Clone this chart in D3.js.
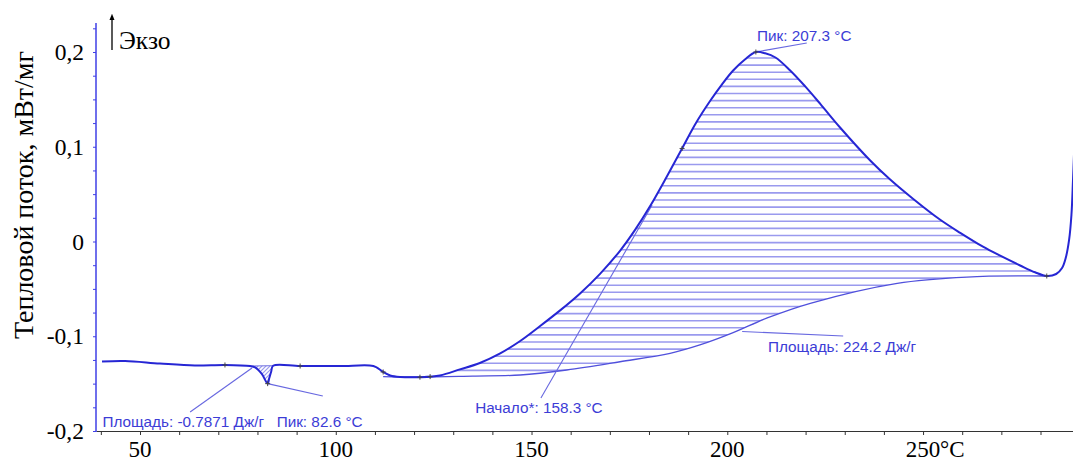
<!DOCTYPE html>
<html>
<head>
<meta charset="utf-8">
<script src="https://cdn.jsdelivr.net/npm/d3@7"></script>
<style>
  body { margin: 0; background: #fff; }
  svg { display: block; }
</style>
</head>
<body>
<svg id="chart"></svg>
<script>
// DSC curve
const tempC = [40.3, 46.2, 55.1, 64.0, 71.7, 78.1, 79.4, 81.1, 82.6, 83.0, 83.5, 84.0, 90.9, 101.1, 108.7,
  110.3, 112.1, 113.9, 116.4, 121.5, 126.6, 131.7, 136.8, 142.0, 147.1, 152.2, 157.3, 162.4, 167.5,
  172.6, 176.4, 180.3, 184.6, 188.45, 192.0, 195.6, 198.7, 201.5, 204.5, 207.3, 209.7, 212.3, 216.0, 219.9, 223.8,
  228.8, 236.5, 241.6, 247.5, 254.3, 259.5, 265.3, 269.7, 274.8, 278.6, 281.6, 284.0, 285.5, 286.5, 287.3, 287.9, 288.3, 288.6]
const heatFlow = [-0.1266, -0.1261, -0.1288, -0.1309, -0.1303, -0.1314, -0.1328, -0.1398, -0.1500, -0.1444, -0.1374, -0.1311, -0.1314, -0.1314, -0.1309,
  -0.1325, -0.1377, -0.1414, -0.1430, -0.1432, -0.1414, -0.1350, -0.1282, -0.1181, -0.1050, -0.0892, -0.0727, -0.0548, -0.0341,
  -0.0098, 0.0120, 0.0374, 0.0689, 0.0982, 0.1251, 0.1483, 0.1662, 0.1805, 0.1921, 0.2000, 0.1986, 0.1942, 0.1808, 0.1637, 0.1450,
  0.1203, 0.0855, 0.0654, 0.0449, 0.0232, 0.0091, -0.0055, -0.0150, -0.0253, -0.0325, -0.0364, -0.0343, -0.0280, -0.0164, 0.0016, 0.0280, 0.0649, 0.0966]

// integration baseline of the big peak
const baseT = [112.1, 121.5, 135.0, 147.1, 159.0, 172.6, 185.4, 193.0, 201.5, 210.2, 221.2, 243.4, 261.2, 281.6]
const baseV = [-0.1427, -0.1430, -0.1420, -0.1409, -0.1356, -0.1269, -0.1180, -0.1092, -0.0962, -0.0807, -0.0652, -0.0441, -0.0375, -0.0364]

// small endotherm baseline
const dipT = [78.1, 84.0]
const dipV = [-0.1314, -0.1311]

// marked points
const markT = [71.7, 82.6, 90.9, 112.1, 121.5, 124.1, 188.45, 207.3, 281.6]
const markV = [-0.1303, -0.1500, -0.1314, -0.1377, -0.1432, -0.1426, 0.0982, 0.2000, -0.0364]

// annotations: text, anchor point, leader start, leader end
const noteText = ['Площадь: -0.7871 Дж/г', 'Пик: 82.6 °C', 'Начало*: 158.3 °C', 'Площадь: 224.2 Дж/г', 'Пик: 207.3 °C']
const noteT = [40.4, 84.9, 135.6, 210.4, 207.6]
const noteV = [-0.1963, -0.1963, -0.1815, -0.1171, 0.2121]
const leadT = [[62.8, 78.6], [82.6, 96.7], [152.4, 180.8], [203.8, 229.6], [207.3, 220.3]]
const leadV = [[-0.1799, -0.1335], [-0.1500, -0.1630], [-0.1652, 0.0385], [-0.0950, -0.0997], [0.2000, 0.2095]]

const xTicks = [50, 100, 150, 200, 250]
const yTicks = [0.2, 0.1, 0, -0.1, -0.2]
const yTickLabels = ['0,2', '0,1', '0', '-0,1', '-0,2']

const width = 1073
const height = 461

const svg = d3.select('#chart').attr('width', width).attr('height', height)

const x = d3.scaleLinear().domain([38.76, 288.3]).range([96, 1073])
const y = d3.scaleLinear().domain([-0.2, 0.2]).range([431, 52])

const blue = '#2626d4'
const noteBlue = '#3c3cd6'
const hatchBlue = '#9a9aee'

const curvePts = tempC.map((t, i) => [t, heatFlow[i]])
const basePts = baseT.map((t, i) => [t, baseV[i]])

const line = d3.line().x(d => x(d[0])).y(d => y(d[1])).curve(d3.curveCatmullRom.alpha(0.5))

const defs = svg.append('defs')
defs.append('clipPath').attr('id', 'plot-clip')
  .append('rect').attr('x', 97).attr('y', 0).attr('width', width - 97).attr('height', 431)

// hatched area of the big exotherm
const peakPts = curvePts.filter(d => d[0] >= 112.1 && d[0] <= 281.6)
const areaPath = line(peakPts) + line(basePts.slice().reverse()).replace(/^M/, 'L') + 'Z'
defs.append('clipPath').attr('id', 'peak-clip')
  .append('path').attr('d', areaPath)

svg.append('g').attr('clip-path', 'url(#peak-clip)')
  .selectAll('line')
  .data(d3.range(58, 380, 7.1))
  .enter().append('line')
  .attr('x1', x(110)).attr('x2', x(285))
  .attr('y1', d => d).attr('y2', d => d)
  .attr('stroke', hatchBlue).attr('stroke-width', 1.6)

// hatched small endotherm
const dipPts = curvePts.filter(d => d[0] >= 78.1 && d[0] <= 84.0)
const dipPath = line(dipPts) + 'L' + x(dipT[1]) + ',' + y(dipV[1]) + 'L' + x(dipT[0]) + ',' + y(dipV[0]) + 'Z'
defs.append('clipPath').attr('id', 'dip-clip')
  .append('path').attr('d', dipPath)
svg.append('g').attr('clip-path', 'url(#dip-clip)')
  .selectAll('line')
  .data(d3.range(230, 300, 4))
  .enter().append('line')
  .attr('x1', d => d).attr('y1', 390)
  .attr('x2', d => d + 30).attr('y2', 360)
  .attr('stroke', hatchBlue).attr('stroke-width', 1.2)

// baselines
svg.append('path').attr('d', line(basePts))
  .attr('fill', 'none').attr('stroke', '#5050dc').attr('stroke-width', 1.3)
svg.append('line')
  .attr('x1', x(dipT[0])).attr('y1', y(dipV[0])).attr('x2', x(dipT[1])).attr('y2', y(dipV[1]))
  .attr('stroke', '#7070e0').attr('stroke-width', 1)

// leader lines
svg.append('g').selectAll('line')
  .data(leadT.map((t, i) => [t, leadV[i]]))
  .enter().append('line')
  .attr('x1', d => x(d[0][0])).attr('y1', d => y(d[1][0]))
  .attr('x2', d => x(d[0][1])).attr('y2', d => y(d[1][1]))
  .attr('stroke', '#6868e0').attr('stroke-width', 1.1)

// main curve
svg.append('path').attr('d', line(curvePts))
  .attr('clip-path', 'url(#plot-clip)')
  .attr('fill', 'none').attr('stroke', blue).attr('stroke-width', 2)

// small cross markers
svg.append('g').selectAll('path')
  .data(markT.map((t, i) => [t, markV[i]]))
  .enter().append('path')
  .attr('d', d => `M${x(d[0]) - 2.5},${y(d[1])}h5M${x(d[0])},${y(d[1]) - 2.5}v5`)
  .attr('stroke', '#444').attr('stroke-width', 1)

// annotation texts
svg.append('g').selectAll('text')
  .data(noteText)
  .enter().append('text')
  .attr('x', (d, i) => x(noteT[i]))
  .attr('y', (d, i) => y(noteV[i]))
  .attr('fill', noteBlue)
  .style('font-family', 'Arial, "Liberation Sans", sans-serif')
  .style('font-size', '15.3px')
  .text(d => d)

// axes
svg.append('g')
  .attr('transform', `translate(0, 431)`)
  .call(d3.axisBottom(x).tickValues(d3.range(40, 290, 10)).tickSize(4).tickSizeOuter(0).tickFormat(''))
  .call(g => g.select('.domain').attr('stroke', '#333'))
  .call(g => g.selectAll('.tick line').attr('stroke', '#333'))

svg.append('g')
  .attr('transform', `translate(96, 0)`)
  .call(d3.axisLeft(y).tickValues(d3.range(-0.2, 0.2301, 0.025)).tickSize(3).tickSizeOuter(0).tickFormat(''))
  .call(g => g.select('.domain').attr('d', `M0,${y(-0.2) + 1}V23`).attr('stroke', '#3f3fe6').attr('stroke-width', 1.5))
  .call(g => g.selectAll('.tick line').attr('stroke', '#3f3fe6'))

const serif = '"Liberation Serif", "Times New Roman", serif'

svg.append('g').selectAll('text')
  .data(xTicks)
  .enter().append('text')
  .attr('x', d => x(d))
  .attr('y', 457)
  .attr('text-anchor', 'middle')
  .style('font-family', serif).style('font-size', '23px')
  .text(d => d)

svg.append('text')
  .attr('x', x(250) + 17).attr('y', 457)
  .style('font-family', serif).style('font-size', '23px')
  .text('°C')

svg.append('g').selectAll('text')
  .data(yTicks)
  .enter().append('text')
  .attr('x', 84)
  .attr('y', d => y(d) + 8)
  .attr('text-anchor', 'end')
  .style('font-family', serif).style('font-size', '23.5px')
  .text((d, i) => yTickLabels[i])

svg.append('text')
  .attr('transform', 'translate(33, 195) rotate(-90)')
  .attr('text-anchor', 'middle')
  .style('font-family', serif).style('font-size', '28px')
  .text('Тепловой поток, мВт/мг')

// exo arrow
defs.append('marker').attr('id', 'arrow')
  .attr('viewBox', '0 0 10 10').attr('refX', 5).attr('refY', 5)
  .attr('markerWidth', 5).attr('markerHeight', 7).attr('orient', 'auto')
  .append('path').attr('d', 'M0,1L10,5L0,9Z').attr('fill', '#000')
svg.append('line')
  .attr('x1', 112).attr('y1', 50).attr('x2', 112).attr('y2', 17)
  .attr('stroke', '#000').attr('stroke-width', 1.3)
  .attr('marker-end', 'url(#arrow)')
svg.append('text')
  .attr('x', 119).attr('y', 49)
  .style('font-family', serif).style('font-size', '25.5px')
  .text('Экзо')
</script>
</body>
</html>
